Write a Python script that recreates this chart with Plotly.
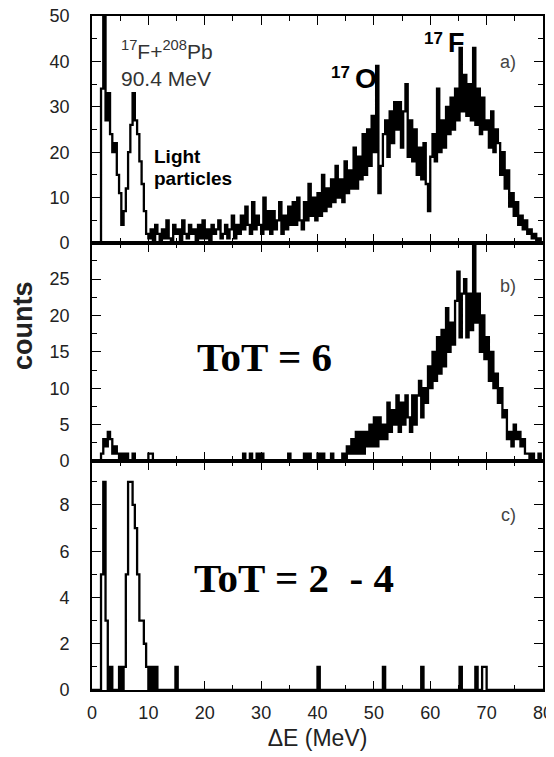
import plotly.graph_objects as go

# ---------------- data ----------------
BIN_WIDTH = 0.4  # MeV per histogram bin, bins start at 0 MeV

# panel a) all events
counts_a = [
    0, 0, 0, 0, 34, 52, 27, 33, 24, 20,
    22, 15, 11, 4, 7, 12, 20, 26, 33, 27,
    24, 18, 13, 7, 2, 1, 3, 0, 4, 2,
    0, 3, 1, 5, 1, 0, 4, 2, 3, 0,
    5, 2, 1, 4, 2, 3, 0, 4, 1, 5,
    1, 3, 0, 4, 2, 3, 5, 1, 2, 4,
    1, 3, 6, 1, 4, 2, 6, 3, 8, 4,
    2, 9, 3, 6, 4, 2, 10, 3, 7, 2,
    7, 3, 5, 9, 2, 6, 3, 8, 4, 9,
    4, 10, 5, 3, 9, 5, 13, 6, 10, 5,
    11, 6, 15, 7, 12, 8, 14, 9, 17, 10,
    14, 9, 18, 11, 16, 12, 21, 12, 19, 14,
    24, 15, 25, 17, 28, 20, 39, 11, 17, 24,
    27, 19, 29, 22, 31, 25, 31, 21, 29, 35,
    19, 27, 18, 25, 15, 21, 14, 22, 13, 7,
    19, 24, 18, 34, 20, 27, 21, 30, 24, 32,
    25, 34, 27, 43, 29, 37, 28, 35, 27, 43,
    26, 34, 24, 32, 25, 27, 21, 29, 20, 25,
    22, 15, 20, 12, 16, 8, 11, 6, 9, 4,
    6, 3, 5, 2, 3, 1, 2, 0, 1, 0,
]

# panel b) ToT = 6
counts_b = [
    0, 0, 0, 0, 1, 3, 2, 4, 3, 1,
    2, 1, 0, 1, 0, 1, 0, 0, 1, 0,
    0, 0, 0, 0, 0, 1, 1, 0, 0, 0,
    0, 0, 0, 0, 0, 0, 0, 0, 0, 0,
    0, 0, 0, 0, 0, 0, 0, 0, 0, 0,
    0, 0, 0, 0, 0, 0, 0, 0, 0, 0,
    0, 0, 0, 0, 0, 0, 0, 1, 0, 0,
    1, 0, 0, 1, 0, 1, 0, 0, 0, 0,
    0, 0, 0, 0, 0, 0, 0, 1, 0, 0,
    0, 0, 0, 0, 1, 0, 1, 0, 0, 0,
    1, 0, 1, 0, 0, 0, 1, 0, 0, 0,
    0, 1, 0, 2, 1, 3, 1, 4, 1, 4,
    1, 4, 2, 5, 2, 6, 2, 6, 3, 5,
    3, 8, 4, 7, 5, 9, 4, 8, 5, 9,
    6, 4, 9, 5, 9, 11, 6, 10, 8, 13,
    10, 15, 11, 17, 12, 18, 13, 21, 15, 19,
    16, 22, 26, 17, 23, 25, 17, 23, 18, 31,
    19, 23, 15, 20, 14, 17, 11, 15, 10, 12,
    8, 10, 6, 7, 3, 4, 2, 5, 3, 4,
    2, 3, 1, 1, 0, 1, 0, 0, 1, 0,
]

# panel c) ToT = 2 - 4
counts_c = [
    0, 0, 0, 0, 5, 9, 3, 0, 1, 0,
    0, 0, 1, 0, 1, 5, 9, 9, 8, 7,
    5, 3, 3, 2, 1, 0, 1, 0, 1, 0,
    0, 0, 0, 0, 0, 0, 0, 1, 0, 0,
    0, 0, 0, 0, 0, 0, 0, 0, 0, 0,
    0, 0, 0, 0, 0, 0, 0, 0, 0, 0,
    0, 0, 0, 0, 0, 0, 0, 0, 0, 0,
    0, 0, 0, 0, 0, 0, 0, 0, 0, 0,
    0, 0, 0, 0, 0, 0, 0, 0, 0, 0,
    0, 0, 0, 0, 0, 0, 0, 0, 0, 0,
    1, 0, 0, 0, 0, 0, 0, 0, 0, 0,
    0, 0, 0, 0, 0, 0, 0, 0, 0, 0,
    0, 0, 0, 0, 0, 0, 0, 0, 0, 1,
    0, 0, 0, 0, 0, 0, 0, 0, 0, 0,
    0, 0, 0, 0, 0, 0, 1, 0, 0, 0,
    0, 0, 0, 0, 0, 0, 0, 0, 0, 0,
    0, 0, 0, 1, 0, 0, 0, 0, 0, 0,
    1, 0, 0, 1, 1, 0, 0, 0, 0, 0,
    0, 0, 0, 0, 0, 0, 0, 0, 0, 0,
    0, 0, 0, 0, 0, 0, 0, 0, 0, 0,
]

x_range = [0, 80]
y_range_a = [0, 50]
y_range_b = [0, 29.95]
y_range_c = [0, 9.9]

panel_labels = ["a)", "b)", "c)"]


def bin_edges(n):
    return [round(i * BIN_WIDTH, 3) for i in range(n + 1)]


# ---------------- figure ----------------
# page body has an 8px default margin; lay out in window pixels
OFF = 8
WIN_W, WIN_H = 554, 757
PLOT_L, PLOT_R, PLOT_T, PLOT_B = 92, 543, 16, 690   # plot-area edges in window px
W, H = WIN_W - OFF, WIN_H - OFF
L, T = PLOT_L - OFF, PLOT_T - OFF
R, B = WIN_W - PLOT_R, WIN_H - PLOT_B
PW, PH = PLOT_R - PLOT_L, PLOT_B - PLOT_T


def px_x(px):
    return (px - PLOT_L) / PW


def px_y(py):
    return (PLOT_B - py) / PH


fig = go.Figure()
for counts, xa, ya in [(counts_a, "x", "y"), (counts_b, "x2", "y2"), (counts_c, "x3", "y3")]:
    fig.add_trace(go.Scatter(
        x=bin_edges(len(counts)), y=counts + [counts[-1]],
        mode="lines", line=dict(color="black", width=2.3, shape="hv"),
        xaxis=xa, yaxis=ya, showlegend=False, hoverinfo="skip",
    ))

tickfont = dict(family="Liberation Sans, Arial, sans-serif", size=18, color="#222")
common = dict(showline=True, linecolor="black", linewidth=1.6, mirror="ticks",
              ticks="inside", ticklen=9, tickwidth=1.4, tickcolor="black",
              showgrid=False, zeroline=False, tickfont=tickfont, automargin=False,
              ticklabeloverflow="allow")


def minor(d):
    return dict(ticks="inside", ticklen=5, dtick=d, tickwidth=1.2, tickcolor="black", showgrid=False)


dom_c = [0, px_y(461)]
dom_b = [px_y(461), px_y(243)]
dom_a = [px_y(243), 1]

fig.update_layout(
    width=W, height=H, margin=dict(l=L, r=R, t=T, b=B, autoexpand=False),
    paper_bgcolor="white", plot_bgcolor="white",
    xaxis=dict(common, domain=[0, 1], anchor="y", range=x_range, dtick=10,
               minor=minor(5), showticklabels=False),
    xaxis2=dict(common, domain=[0, 1], anchor="y2", range=x_range, dtick=10,
                minor=minor(5), showticklabels=False, matches="x"),
    xaxis3=dict(common, domain=[0, 1], anchor="y3", range=x_range, dtick=10,
                minor=minor(5), matches="x", ticklabelstandoff=6,
                title=dict(text="ΔE (MeV)", standoff=7,
                           font=dict(family="Liberation Sans, Arial, sans-serif", size=23, color="#222"))),
    yaxis=dict(common, domain=dom_a, anchor="x", range=y_range_a, dtick=10,
               minor=minor(5), ticklabelstandoff=17),
    yaxis2=dict(common, domain=dom_b, anchor="x2", range=y_range_b, dtick=5,
                minor=minor(2.5), ticklabelstandoff=17),
    yaxis3=dict(common, domain=dom_c, anchor="x3", range=y_range_c, dtick=2,
                minor=minor(1), ticklabelstandoff=17),
)

sans = "Liberation Sans, Arial, sans-serif"
serif = "Liberation Serif, Times New Roman, serif"


def ann(text, x, y, size, family=sans, color="black", xanchor="center", yanchor="middle", angle=0):
    fig.add_annotation(text=text, x=px_x(x), y=px_y(y), xref="paper", yref="paper",
                       xanchor=xanchor, yanchor=yanchor, showarrow=False, textangle=angle,
                       font=dict(family=family, size=size, color=color))


# y title
ann("<b>counts</b>", 23, 326, 27, angle=-90, color="#222")
# panel a texts
ann("<sup>17</sup>F+<sup>208</sup>Pb", 119, 50, 21, color="#333", xanchor="left")
ann("90.4 MeV", 119, 79, 21, color="#333", xanchor="left")
ann("<b>Light</b>", 152, 157, 19, xanchor="left")
ann("<b>particles</b>", 152, 179, 19, xanchor="left")
ann("<b>17</b>", 340, 73, 17)
ann("<b>O</b>", 366, 79, 28)
ann("<b>17</b>", 433, 38, 17)
ann("<b>F</b>", 456, 43, 27)
# panel labels
ann(panel_labels[0], 508, 62, 18, color="#444")
ann(panel_labels[1], 508, 286, 18, color="#444")
ann(panel_labels[2], 508, 515, 18, color="#444")
# ToT labels
ann("<b>ToT = 6</b>", 264, 357, 41, family=serif)
ann("<b>ToT = 2\u00a0\u00a0- 4</b>", 294, 578, 41, family=serif)

fig.write_html("out.html")
